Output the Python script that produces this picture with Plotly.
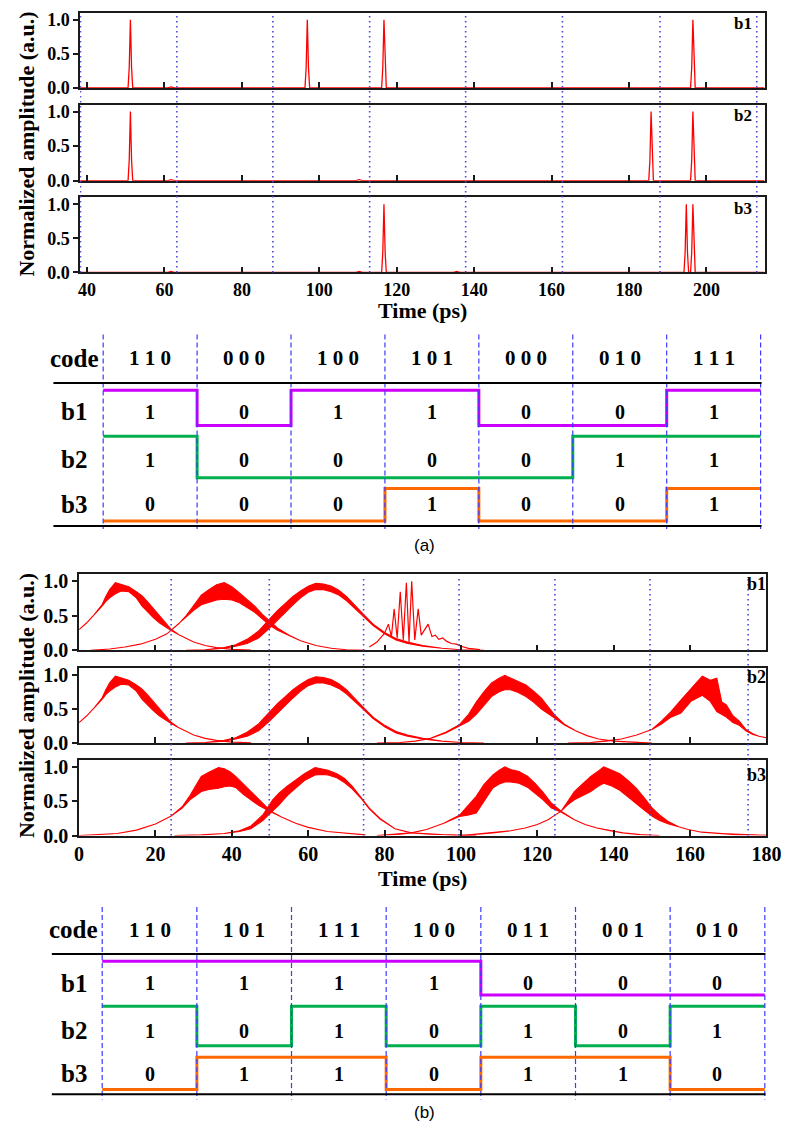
import plotly.graph_objects as go

W, H = 799, 1140

# ---------------- (a) time traces ----------------
a_xrange = [38.2, 215.0]
a_xticks = [40, 60, 80, 100, 120, 140, 160, 180, 200]
a_slot_edges = [38.3, 63.2, 88.0, 113.0, 137.8, 162.8, 188.0, 213.0]
a_b1_peaks = [51.2, 96.9, 116.7, 196.5]
a_b2_peaks = [51.2, 185.7, 196.5]
a_b3_peaks = [116.7, 194.8, 196.5]
a_b1_bumps = [61.7]
a_b2_bumps = [61.7, 110.3]
a_b3_bumps = [61.7, 110.3, 135.5]
a_peak_height = 1.0
a_bump_height = 0.015
a_peak_offsets = [-0.6, -0.3, 0.0, 0.3, 0.6]
a_peak_profile = [0.0, 0.3, 1.0, 0.3, 0.0]
a_bump_offsets = [-0.8, 0.0, 0.8]
a_bump_profile = [0.0, 1.0, 0.0]

# ---------------- (a) code table ----------------
a_codes = ["1 1 0", "0 0 0", "1 0 0", "1 0 1", "0 0 0", "0 1 0", "1 1 1"]
a_bits_b1 = [1, 0, 1, 1, 0, 0, 1]
a_bits_b2 = [1, 0, 0, 0, 0, 1, 1]
a_bits_b3 = [0, 0, 0, 1, 0, 0, 1]

# ---------------- (b) time traces ----------------
b_xrange = [0, 180]
b_xticks = [0, 20, 40, 60, 80, 100, 120, 140, 160, 180]
b_slot_edges = [24.1, 49.8, 74.5, 99.5, 124.6, 149.5, 175.2]

# pulse centred ~11 ps (b1 and b2)
pA_t = [0, 2, 4, 6, 7, 8, 9.5, 11, 13, 15, 16.5, 18, 19.5, 21, 22.5, 24, 26, 28, 30, 33, 36, 40, 45]
pA_up = [0.30, 0.40, 0.52, 0.66, 0.78, 0.88, 0.98, 0.95, 0.92, 0.85, 0.79, 0.70, 0.60, 0.50, 0.40, 0.31, 0.23, 0.17, 0.12, 0.07, 0.04, 0.015, 0.005]
pA_lo = [0.30, 0.40, 0.52, 0.64, 0.71, 0.76, 0.82, 0.86, 0.85, 0.76, 0.64, 0.55, 0.47, 0.40, 0.34, 0.29, 0.23, 0.17, 0.12, 0.07, 0.04, 0.015, 0.005]

# b1 pulse centred ~37.5 ps
pB_t = [3, 8, 12, 16, 20, 23, 26, 28, 30, 32, 34, 36, 38, 40, 42, 44, 46, 48, 50, 52, 55, 58, 62, 66, 70, 75]
pB_up = [0.0, 0.02, 0.05, 0.09, 0.16, 0.24, 0.38, 0.50, 0.65, 0.80, 0.88, 0.95, 0.98, 0.92, 0.83, 0.74, 0.64, 0.52, 0.42, 0.32, 0.22, 0.14, 0.07, 0.03, 0.01, 0.0]
pB_lo = [0.0, 0.02, 0.05, 0.09, 0.16, 0.24, 0.38, 0.48, 0.58, 0.66, 0.70, 0.73, 0.74, 0.73, 0.69, 0.62, 0.55, 0.45, 0.36, 0.29, 0.21, 0.14, 0.07, 0.03, 0.01, 0.0]

# pulse centred ~62.5 ps (b1 and b2)
pC_t = [28, 33, 38, 41, 44, 47, 49.8, 52, 54, 56, 58, 60, 62, 64, 66, 68, 70, 72, 74.5, 77, 80, 83, 86, 90, 95, 100, 106]
pC_up = [0.0, 0.01, 0.04, 0.08, 0.16, 0.28, 0.45, 0.58, 0.68, 0.78, 0.86, 0.93, 0.97, 0.96, 0.93, 0.87, 0.78, 0.66, 0.52, 0.38, 0.26, 0.17, 0.12, 0.07, 0.03, 0.01, 0.0]
pC_lo = [0.0, 0.01, 0.03, 0.06, 0.10, 0.18, 0.32, 0.45, 0.55, 0.66, 0.76, 0.84, 0.88, 0.88, 0.85, 0.80, 0.72, 0.62, 0.49, 0.36, 0.24, 0.15, 0.10, 0.06, 0.03, 0.01, 0.0]

# b1 ringing pulse ~87 ps
pD_t = [76, 78, 80, 81, 81.8, 82.5, 83.3, 84.1, 84.9, 85.7, 86.4, 87.1, 87.9, 88.8, 89.6, 90.4, 91.4, 92.4, 93.3, 94.2, 95.2, 96.3, 97.5, 98.8, 100, 102, 105]
pD_y = [0.05, 0.12, 0.25, 0.38, 0.20, 0.60, 0.18, 0.85, 0.15, 0.98, 0.12, 1.00, 0.15, 0.60, 0.22, 0.30, 0.38, 0.20, 0.22, 0.16, 0.18, 0.13, 0.10, 0.09, 0.06, 0.03, 0.01]

# b2 pulse centred ~112 ps
pE_t = [78, 84, 88, 92, 96, 99.6, 102, 104, 106, 108, 110, 111.5, 113, 115, 117, 119, 121, 123, 124.7, 127, 130, 133, 136, 140, 145, 150]
pE_up = [0.0, 0.01, 0.03, 0.07, 0.16, 0.27, 0.42, 0.60, 0.75, 0.88, 0.95, 0.99, 0.95, 0.90, 0.85, 0.76, 0.66, 0.52, 0.40, 0.28, 0.18, 0.11, 0.06, 0.03, 0.01, 0.0]
pE_lo = [0.0, 0.01, 0.03, 0.07, 0.15, 0.25, 0.32, 0.42, 0.55, 0.68, 0.75, 0.78, 0.78, 0.74, 0.68, 0.60, 0.50, 0.42, 0.36, 0.27, 0.18, 0.11, 0.06, 0.03, 0.01, 0.0]

# b2 pulse centred ~163 ps
pF_t = [128, 134, 138, 142, 146, 150, 152.5, 155, 157.6, 160.2, 163.2, 165.3, 167, 168.3, 169.5, 171.2, 172.9, 174.6, 176.3, 178, 180]
pF_up = [0.0, 0.01, 0.03, 0.06, 0.12, 0.20, 0.32, 0.46, 0.63, 0.80, 0.98, 0.92, 0.95, 0.60, 0.56, 0.40, 0.32, 0.20, 0.14, 0.10, 0.08]
pF_lo = [0.0, 0.01, 0.03, 0.06, 0.12, 0.20, 0.28, 0.38, 0.44, 0.61, 0.70, 0.61, 0.46, 0.42, 0.38, 0.30, 0.26, 0.18, 0.13, 0.10, 0.08]

# b3 pulse centred ~37.5 ps
pG_t = [0, 5, 10, 15, 20, 24, 27, 29, 30.5, 32, 34, 36.5, 38, 39.5, 41, 43, 45, 47, 49, 50.7, 53, 56.7, 60, 65, 70, 75]
pG_up = [0.0, 0.01, 0.03, 0.08, 0.17, 0.28, 0.42, 0.58, 0.72, 0.86, 0.92, 0.99, 0.97, 0.93, 0.86, 0.75, 0.63, 0.52, 0.42, 0.34, 0.27, 0.18, 0.12, 0.06, 0.03, 0.01]
pG_lo = [0.0, 0.01, 0.03, 0.08, 0.17, 0.28, 0.40, 0.52, 0.58, 0.64, 0.67, 0.69, 0.71, 0.72, 0.70, 0.60, 0.52, 0.44, 0.38, 0.33, 0.27, 0.18, 0.12, 0.06, 0.03, 0.01]

# b3 pulse centred ~62.5 ps
pH_t = [25, 32, 38, 42, 45, 48.1, 50.7, 52.4, 54.5, 56.7, 59, 61.8, 63.5, 65.2, 67.5, 69.5, 71.5, 73.7, 76, 78.8, 82.7, 87, 92, 98, 104]
pH_up = [0.0, 0.01, 0.03, 0.07, 0.14, 0.30, 0.52, 0.62, 0.72, 0.81, 0.90, 0.99, 0.97, 0.95, 0.90, 0.83, 0.72, 0.57, 0.40, 0.25, 0.10, 0.04, 0.02, 0.005, 0.0]
pH_lo = [0.0, 0.01, 0.03, 0.06, 0.10, 0.22, 0.36, 0.45, 0.58, 0.69, 0.80, 0.88, 0.89, 0.88, 0.84, 0.77, 0.68, 0.55, 0.39, 0.24, 0.10, 0.04, 0.02, 0.005, 0.0]

# b3 pulse centred ~111.5 ps
pI_t = [78, 84, 87, 91, 95.5, 99.7, 102, 104, 106, 108.3, 110, 111.5, 113, 115.2, 117.5, 119.4, 121.5, 123.7, 126.3, 129.7, 132.5, 135.6, 139, 142.4, 147, 152]
pI_up = [0.0, 0.02, 0.04, 0.09, 0.18, 0.30, 0.45, 0.57, 0.74, 0.88, 0.95, 1.00, 0.96, 0.93, 0.86, 0.76, 0.63, 0.47, 0.35, 0.23, 0.16, 0.11, 0.07, 0.04, 0.015, 0.0]
pI_lo = [0.0, 0.02, 0.04, 0.09, 0.18, 0.28, 0.30, 0.33, 0.50, 0.69, 0.75, 0.78, 0.78, 0.76, 0.70, 0.62, 0.52, 0.40, 0.34, 0.23, 0.16, 0.11, 0.07, 0.04, 0.015, 0.0]

# b3 pulse centred ~137.5 ps
pJ_t = [100, 108.3, 113, 116.8, 120, 122.8, 126.3, 128, 129.7, 132, 134, 136, 137.4, 139.5, 141.6, 143.8, 145.9, 148, 150.1, 152, 154.4, 157, 159.5, 163, 168, 172, 176.5, 180]
pJ_up = [0.0, 0.04, 0.07, 0.11, 0.16, 0.23, 0.36, 0.50, 0.64, 0.76, 0.86, 0.94, 1.00, 0.95, 0.90, 0.80, 0.69, 0.55, 0.40, 0.30, 0.20, 0.13, 0.09, 0.05, 0.03, 0.015, 0.01, 0.005]
pJ_lo = [0.0, 0.04, 0.07, 0.11, 0.16, 0.23, 0.36, 0.45, 0.52, 0.58, 0.64, 0.72, 0.76, 0.72, 0.66, 0.56, 0.47, 0.37, 0.28, 0.22, 0.17, 0.13, 0.09, 0.05, 0.03, 0.015, 0.01, 0.005]

# ---------------- (b) code table ----------------
b_codes = ["1 1 0", "1 0 1", "1 1 1", "1 0 0", "0 1 1", "0 0 1", "0 1 0"]
b_bits_b1 = [1, 1, 1, 1, 0, 0, 0]
b_bits_b2 = [1, 0, 1, 0, 1, 0, 1]
b_bits_b3 = [0, 1, 1, 0, 1, 1, 0]

row_names = ["b1", "b2", "b3"]

# ================= styling / layout =================
SERIF = "Liberation Serif"
RED = "#ff0000"
DOT_BLUE = "#4848d8"
DASH_BLUE = "#3a3aff"
STEP_COLORS = ["#cc00ff", "#00b04f", "#ff6a00"]


def fx(p):
    return p / W


def fy(p):
    return 1 - p / H


fig = go.Figure()


def ax_name(kind, i):
    return kind if i == 1 else f"{kind}{i}"


def spike_train(peaks, bumps, xr):
    pts = [(xr[0], 0.0), (xr[1], 0.0)]
    for c in peaks:
        pts += [(c + o, a_peak_height * p) for o, p in zip(a_peak_offsets, a_peak_profile)]
    for c in bumps:
        pts += [(c + o, a_bump_height * p) for o, p in zip(a_bump_offsets, a_bump_profile)]
    pts.sort()
    return [p[0] for p in pts], [p[1] for p in pts]


# panel (a) traces
for i, (pk, bm) in enumerate([(a_b1_peaks, a_b1_bumps), (a_b2_peaks, a_b2_bumps), (a_b3_peaks, a_b3_bumps)]):
    xs, ys = spike_train(pk, bm, a_xrange)
    fig.add_trace(go.Scatter(x=xs, y=ys, mode="lines", line=dict(color=RED, width=1.3),
                             xaxis=ax_name("x", i + 1), yaxis=ax_name("y", i + 1),
                             showlegend=False, hoverinfo="skip"))


def add_band(t, up, lo, idx):
    fig.add_trace(go.Scatter(x=list(t) + list(t[::-1]), y=list(up) + list(lo[::-1]),
                             mode="lines", fill="toself", fillcolor=RED,
                             line=dict(color=RED, width=1.1),
                             xaxis=ax_name("x", idx), yaxis=ax_name("y", idx),
                             showlegend=False, hoverinfo="skip"))


# panel (b) traces
add_band(pA_t, pA_up, pA_lo, 4)
add_band(pB_t, pB_up, pB_lo, 4)
add_band(pC_t, pC_up, pC_lo, 4)
fig.add_trace(go.Scatter(x=pD_t, y=pD_y, mode="lines", line=dict(color=RED, width=1.2),
                         xaxis="x4", yaxis="y4", showlegend=False, hoverinfo="skip"))
add_band(pA_t, pA_up, pA_lo, 5)
add_band(pC_t, pC_up, pC_lo, 5)
add_band(pE_t, pE_up, pE_lo, 5)
add_band(pF_t, pF_up, pF_lo, 5)
add_band(pG_t, pG_up, pG_lo, 6)
add_band(pH_t, pH_up, pH_lo, 6)
add_band(pI_t, pI_up, pI_lo, 6)
add_band(pJ_t, pJ_up, pJ_lo, 6)

layout = dict(width=W, height=H, margin=dict(l=0, r=0, t=0, b=0),
              paper_bgcolor="white", plot_bgcolor="white", showlegend=False)

tick_font_a = dict(family=SERIF, size=18, color="black", weight="bold")
tick_font_b = dict(family=SERIF, size=20, color="black", weight="bold")


def panel(i, xdom, ydom, xr, xticks, showlab, tfont):
    layout[ax_name("xaxis", i)] = dict(
        domain=xdom, range=xr, anchor=ax_name("y", i), showline=True, mirror=True,
        linecolor="#1a1a1a", linewidth=1.5, ticks="inside", ticklen=6, tickwidth=1.5,
        tickcolor="#1a1a1a", tickvals=xticks, showticklabels=showlab, tickfont=tfont,
        showgrid=False, zeroline=False, fixedrange=True)
    layout[ax_name("yaxis", i)] = dict(
        domain=ydom, range=[0, 1.1], anchor=ax_name("x", i), showline=True, mirror=True,
        linecolor="#1a1a1a", linewidth=1.5, ticks="outside", ticklen=5, tickwidth=1.5,
        tickcolor="#1a1a1a", tickvals=[0, 0.5, 1.0], ticktext=["0.0", "0.5", "1.0"],
        tickfont=tfont, showgrid=False, zeroline=False, fixedrange=True)


a_xdom = [fx(77), fx(779)]
a_ypx = [(9, 85), (102, 179), (196, 272)]
for i, (t, b) in enumerate(a_ypx):
    panel(i + 1, a_xdom, [fy(b), fy(t)], a_xrange, a_xticks, i == 2, tick_font_a)

b_xdom = [fx(76), fx(781)]
b_ypx = [(578, 655), (672.7, 749), (766, 842.7)]
for i, (t, b) in enumerate(b_ypx):
    panel(i + 4, b_xdom, [fy(b), fy(t)], b_xrange, b_xticks, i == 2, tick_font_b)

# table axes (x = slot index, y = pixel-like units, reversed)
a_col0, a_colw = 100.7, 96.33
b_col0, b_colw = 99.7, 97.09
layout["xaxis7"] = dict(domain=[0, 1], range=[-a_col0 / a_colw, (W - a_col0) / a_colw],
                        anchor="y7", visible=False, fixedrange=True)
layout["yaxis7"] = dict(domain=[fy(545), fy(325)], range=[545, 325], anchor="x7",
                        visible=False, fixedrange=True)
layout["xaxis8"] = dict(domain=[0, 1], range=[-b_col0 / b_colw, (W - b_col0) / b_colw],
                        anchor="y8", visible=False, fixedrange=True)
layout["yaxis8"] = dict(domain=[0, fy(905)], range=[1140, 905], anchor="x8",
                        visible=False, fixedrange=True)

shapes = []
annotations = []


def note(xref, yref, x, y, text, font, **kw):
    d = dict(xref=xref, yref=yref, x=x, y=y, text=text, showarrow=False,
             xanchor="center", yanchor="middle", font=font)
    d.update(kw)
    annotations.append(d)


# dotted slot boundaries
for e in a_slot_edges:
    shapes.append(dict(type="line", xref="x", yref="paper", x0=e, x1=e, y0=fy(272), y1=fy(9),
                       line=dict(color=DOT_BLUE, width=1.6, dash="1.5px,3.5px")))
for e in b_slot_edges:
    shapes.append(dict(type="line", xref="x4", yref="paper", x0=e, x1=e, y0=fy(842.7), y1=fy(580),
                       line=dict(color=DOT_BLUE, width=1.6, dash="1.5px,3.5px")))

# panel labels
for (lx, ly), txt in zip([(757, 20), (757, 113), (757, 207)], row_names):
    note("paper", "paper", fx(lx), fy(ly), txt, dict(family=SERIF, size=17, color="black", weight="bold"))
for (lx, ly), txt in zip([(771, 588), (771, 682), (771, 781)], row_names):
    note("paper", "paper", fx(lx), fy(ly), txt, dict(family=SERIF, size=18, color="black", weight="bold"))

# axis titles
for cy in (142, 711):
    note("paper", "paper", fx(22), fy(cy), "Normalized amplitude (a.u.)",
         dict(family=SERIF, size=22, color="black", weight="bold"), textangle=-90)
for cy in (311, 886):
    note("paper", "paper", fx(428), fy(cy), "Time (ps)",
         dict(family=SERIF, size=22, color="black", weight="bold"))


def table(xa, ya, codes, bits_list, vlines_y, hlines_y, hline_x, code_y, row_y, highs, lows, label_x):
    for k in range(len(codes) + 1):
        shapes.append(dict(type="line", xref=xa, yref=ya, x0=k, x1=k, y0=vlines_y[0], y1=vlines_y[1],
                           line=dict(color=DASH_BLUE, width=1.2, dash="5px,3px")))
    for hy in hlines_y:
        shapes.append(dict(type="line", xref=xa, yref=ya, x0=hline_x[0], x1=hline_x[1], y0=hy, y1=hy,
                           line=dict(color="black", width=2)))
    note(xa, ya, label_x, code_y, "code", dict(family=SERIF, size=25, color="black", weight="bold"))
    for k, c in enumerate(codes):
        note(xa, ya, k + 0.5, code_y, c, dict(family=SERIF, size=21, color="black", weight="bold"))
    for r, bits in enumerate(bits_list):
        note(xa, ya, label_x, row_y[r], row_names[r], dict(family=SERIF, size=25, color="black", weight="bold"))
        for k, b in enumerate(bits):
            note(xa, ya, k + 0.5, row_y[r], str(b), dict(family=SERIF, size=20, color="black", weight="bold"))
        levels = [highs[r] if b else lows[r] for b in bits]
        fig.add_trace(go.Scatter(x=list(range(len(bits) + 1)), y=levels + [levels[-1]], mode="lines",
                                 line=dict(color=STEP_COLORS[r], width=3, shape="hv"),
                                 xaxis=xa, yaxis=ya, showlegend=False, hoverinfo="skip"))


table("x7", "y7", a_codes, [a_bits_b1, a_bits_b2, a_bits_b3], (335, 532), (384, 529), (-0.53, 7.01),
      359, [413, 462, 507], [391.5, 438, 491], [427, 480, 524], -0.31)
table("x8", "y8", b_codes, [b_bits_b1, b_bits_b2, b_bits_b3], (915, 1110), (962.7, 1104.7), (-0.532, 7.007),
      938, [992.5, 1040.5, 1084], [970, 1015.7, 1067.3], [1004.3, 1055.7, 1100], -0.3)

note("paper", "paper", fx(430), fy(549), "(a)", dict(family="Liberation Sans", size=17, color="black"))
note("paper", "paper", fx(430), fy(1123), "(b)", dict(family="Liberation Sans", size=17, color="black"))

layout["shapes"] = shapes
layout["annotations"] = annotations
fig.update_layout(**layout)

fit_script = (
    "document.documentElement.style.margin='0';"
    "document.body.style.margin='0';"
    "document.documentElement.style.overflow='hidden';"
    "document.body.style.overflow='hidden';"
    "var gd=document.getElementById('{plot_id}');"
    "var w=window.innerWidth||799, h=window.innerHeight||1140;"
    "if(Math.abs(w-799)>1||Math.abs(h-1140)>1){"
    "gd.style.width=w+'px';gd.style.height=h+'px';"
    "Plotly.relayout(gd,{width:w,height:h});}"
)

fig.write_html("out.html", config={"displayModeBar": False}, post_script=fit_script)
